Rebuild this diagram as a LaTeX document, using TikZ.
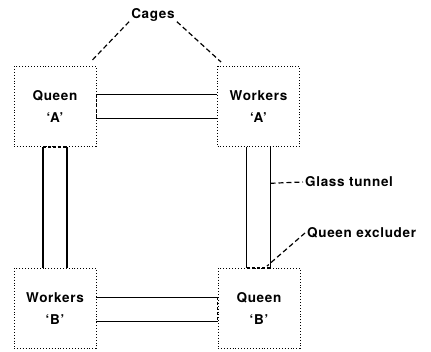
\documentclass[tikz,border=0pt]{standalone}
\usepackage{fontspec}
\setmainfont{TeX Gyre Heros}
\usetikzlibrary{calc}
\tikzset{
      cage/.style={
        draw=black,
        dotted,
        line width=0.9pt,
        minimum width=82pt,
        minimum height=80pt,
        inner sep=0pt,
        align=center,
        font=\fontsize{13.5}{22}\selectfont\bfseries\addfontfeature{LetterSpace=5}
      },
      tunnel/.style={line width=1.3pt},
      excluder/.style={line width=1.8pt, dash pattern=on 3pt off 2pt},
      leader/.style={line width=1.2pt, dash pattern=on 5pt off 3pt},
      lbl/.style={font=\fontsize{13.5}{16}\selectfont\bfseries\addfontfeature{LetterSpace=5}, inner sep=0pt}
    }
\begin{document}
\begin{tikzpicture}[x=1pt,y=-1pt]
    \useasboundingbox (0,0) rectangle (431,352);
    \node[cage] (qa) at (55,106.5) {Queen\\‘A’};
    \node[cage] (wa) at (258.5,106.5) {Workers\\‘A’};
    \node[cage] (wb) at (55,308.5) {Workers\\‘B’};
    \node[cage] (qb) at (259,308.5) {Queen\\‘B’};
    % glass tunnels
    \draw[tunnel] ([yshift=12pt]qa.east) -- ([yshift=12pt]wa.west);
    \draw[tunnel] ([yshift=-12pt]qa.east) -- ([yshift=-12pt]wa.west);
    \draw[tunnel] ([xshift=-12pt]qa.south) -- ([xshift=-12pt]wb.north);
    \draw[tunnel] ([xshift=12pt]qa.south) -- ([xshift=12pt]wb.north);
    \draw[tunnel] ([xshift=-12pt]wa.south) -- ([xshift=-12pt]wa.south |- qb.north);
    \draw[tunnel] ([xshift=12pt]wa.south) -- ([xshift=12pt]wa.south |- qb.north);
    \draw[tunnel] ([yshift=11pt]wb.east) -- ([yshift=11pt]wb.east -| qb.west);
    \draw[tunnel] ([yshift=-13pt]wb.east) -- ([yshift=-13pt]wb.east -| qb.west);
    % queen excluders
    \draw[excluder] ([yshift=12pt]qa.east) -- ([yshift=-12pt]qa.east);
    \draw[excluder] ([xshift=-12pt]qa.south) -- ([xshift=12pt]qa.south);
    \draw[excluder] ([xshift=-12pt]qb.north) -- ([xshift=12pt]qb.north);
    \draw[excluder] ([yshift=11pt]qb.west) -- ([yshift=-13pt]qb.west);
    % labels
    \node[lbl] (cages) at (153,15) {Cages};
    \node[lbl, anchor=west] (glass) at (305,182) {Glass tunnel};
    \node[lbl, anchor=west] (excl) at (307,233) {Queen excluder};
    \coordinate (gt) at ($([xshift=12pt]wa.south)!0.3!([xshift=12pt]wa.south |- qb.north)$);
    \coordinate (qx) at ([xshift=8pt,yshift=2pt]qb.north);
    \draw[leader] ([xshift=-2pt]cages.south west) -- ([xshift=-6pt,yshift=4pt]qa.north east);
    \draw[leader] ([xshift=2pt]cages.south east) -- ([xshift=4pt,yshift=4pt]wa.north west);
    \draw[leader] (gt) -- ([xshift=-2pt]glass.west);
    \draw[leader] ([xshift=-2pt]excl.west) -- (qx);
    \end{tikzpicture}
\end{document}
